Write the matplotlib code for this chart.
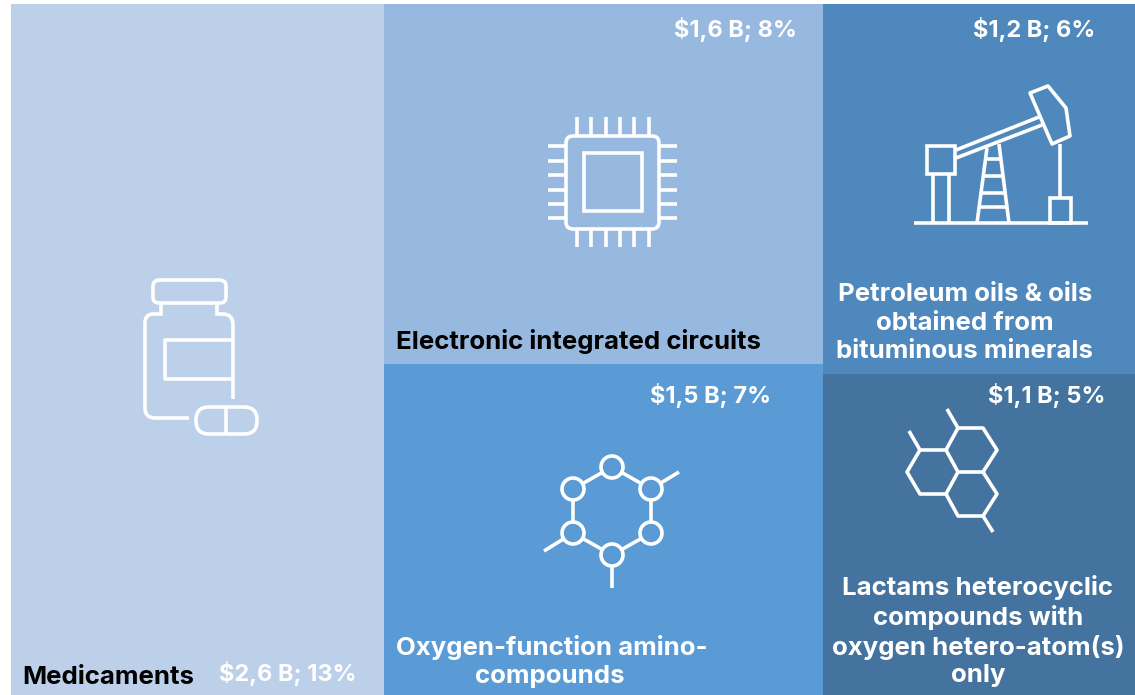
import matplotlib.pyplot as plt
from matplotlib.patches import Rectangle, Circle, FancyBboxPatch, PathPatch
from matplotlib.path import Path

plt.rcParams['font.family'] = ['Inter', 'DejaVu Sans']

# Treemap data (billions, read from the tile areas, finer than the rounded labels)
categories = ['Medicaments', 'Electronic integrated circuits', 'Oxygen-function amino-\ncompounds',
              'Petroleum oils & oils\nobtained from\nbituminous minerals',
              'Lactams heterocyclic\ncompounds with\noxygen hetero-atom(s)\nonly']
values = [2.655, 1.628, 1.497, 1.189, 1.031]
value_labels = ['$2,6 B; 13%', '$1,6 B; 8%', '$1,5 B; 7%', '$1,2 B; 6%', '$1,1 B; 5%']
colors = ['#BDD0E9', '#98B9DF', '#5B9BD5', '#4F88BC', '#44739F']
columns = [[0], [1, 2], [3, 4]]

WHITE = 'white'
LW = 2.6

fig = plt.figure(figsize=(11.35, 6.95), dpi=100)
ax = fig.add_axes([0, 0, 1, 1])
ax.set_xlim(0, 1135)
ax.set_ylim(695, 0)
ax.axis('off')

# Lay out the tiles column by column from the values
left, top, right, bottom = 11, 4, 1135, 695
total = sum(values)
x = left
for col in columns:
    col_sum = sum(values[i] for i in col)
    w = (right - left) * col_sum / total
    y = top
    for i in col:
        h = (bottom - top) * values[i] / col_sum
        ax.add_patch(Rectangle((x, y), w, h, fc=colors[i], ec='none'))
        y += h
    x += w


def line(*pts):
    xs, ys = zip(*pts)
    ax.plot(xs, ys, color=WHITE, lw=LW, solid_capstyle='butt', solid_joinstyle='round')


def rbox(x0, y0, x1, y1, r):
    ax.add_patch(FancyBboxPatch((x0 + r, y0 + r), x1 - x0 - 2 * r, y1 - y0 - 2 * r,
                                boxstyle=f'round,pad={r},rounding_size={r}',
                                fc='none', ec=WHITE, lw=LW))


def curve(*segs):
    # segs: start point, then (ctrl, end) for curves or plain points for lines
    verts, codes = [segs[0]], [Path.MOVETO]
    for s in segs[1:]:
        if isinstance(s[0], tuple):
            verts += [s[0], s[1]]
            codes += [Path.CURVE3, Path.CURVE3]
        else:
            verts.append(s)
            codes.append(Path.LINETO)
    ax.add_patch(PathPatch(Path(verts, codes), fc='none', ec=WHITE, lw=LW, capstyle='butt'))


# Bottle icon
curve((159, 303), ((153, 303), (153, 297)), (153, 286), ((153, 280), (160, 280)),
      (219, 280), ((226, 280), (226, 286)), (226, 297), ((226, 303), (220, 303)), (159, 303))
curve((161, 303), (161, 314), (153, 314), ((145, 314), (145, 323)), (145, 408),
      ((145, 418), (155, 418)), (189, 418))
curve((217, 303), (217, 314), (223, 314), ((233, 314), (233, 325)), (233, 399))
line((233, 340), (165, 340), (165, 379), (233, 379))
rbox(196, 407, 257, 434, 13)
line((226, 407), (226, 434))

# Chip icon
rbox(566, 136, 659, 229, 7)
ax.add_patch(Rectangle((584, 153), 58, 58, fc='none', ec=WHITE, lw=LW))
for px in [577, 591, 606, 620, 634, 649]:
    line((px, 117), (px, 136))
    line((px, 229), (px, 247))
for py in [146, 161, 175, 190, 204, 218]:
    line((548, py), (566, py))
    line((659, py), (677, py))

# Oil pump icon
line((914, 223), (1088, 223))
ax.add_patch(Rectangle((927, 146), 28, 28, fc='none', ec=WHITE, lw=LW))
line((933, 174), (933, 223))
line((949, 174), (949, 223))
line((956, 150), (1039, 117))
line((956, 158), (1042, 125))
ax.add_patch(plt.Polygon([(1030, 93), (1048, 86), (1066, 108), (1070, 136), (1052, 144)],
                         fc='none', ec=WHITE, lw=LW, joinstyle='round'))
line((987, 148), (977, 223))
line((999, 144), (1009, 223))
for y0, x0, x1 in [(159, 986, 1001), (176, 983, 1003), (193, 981, 1005), (207, 979, 1007)]:
    line((x0, y0), (x1, y0))
ax.add_patch(Rectangle((1050, 198), 21, 25, fc='none', ec=WHITE, lw=LW))
line((1060, 144), (1060, 198))

# Amino molecule icon
ring = [(612, 467), (651, 489), (651, 533), (612, 555), (573, 533), (573, 489)]
line(*ring, ring[0])
for c, end in [(ring[1], (679, 472)), (ring[4], (544, 551)), (ring[3], (612, 588))]:
    line(c, end)
for c in ring:
    ax.add_patch(Circle(c, 11, fc=colors[2], ec=WHITE, lw=LW, zorder=3))

# Lactam hexagons icon
line((958, 428), (983, 428), (997, 450), (983, 472), (958, 472), (946, 450), (958, 428))
line((946, 450), (920, 450), (907, 472), (920, 494), (946, 494), (958, 472))
line((983, 472), (997, 494), (983, 516), (958, 516), (946, 494))
line((958, 428), (947, 409))
line((920, 450), (909, 431))
line((983, 516), (993, 532))

# Labels
val_fs = 17
val_pos = [(288, 673), (735, 30), (711, 395), (1034, 30), (1047, 395)]
for (vx, vy), lab in zip(val_pos, value_labels):
    ax.text(vx, vy, lab.replace('$', r'\$'), color=WHITE, fontsize=val_fs, fontweight='bold',
            ha='center', va='center')

name_style = dict(fontsize=18.6, fontweight='bold', va='center')
ax.text(22, 678, categories[0], color='black', ha='left', **name_style)
ax.text(396, 342, categories[1], color='black', ha='left', **name_style)
ax.text(396, 647, 'Oxygen-function amino-', color=WHITE, ha='left', **name_style)
ax.text(550, 676, 'compounds', color=WHITE, ha='center', **name_style)
ax.text(965, 323, categories[3], color=WHITE, ha='center', linespacing=1.3, **name_style)
ax.text(978, 631, categories[4], color=WHITE, ha='center', linespacing=1.24, **name_style)

fig.savefig('out.png', dpi=100)
